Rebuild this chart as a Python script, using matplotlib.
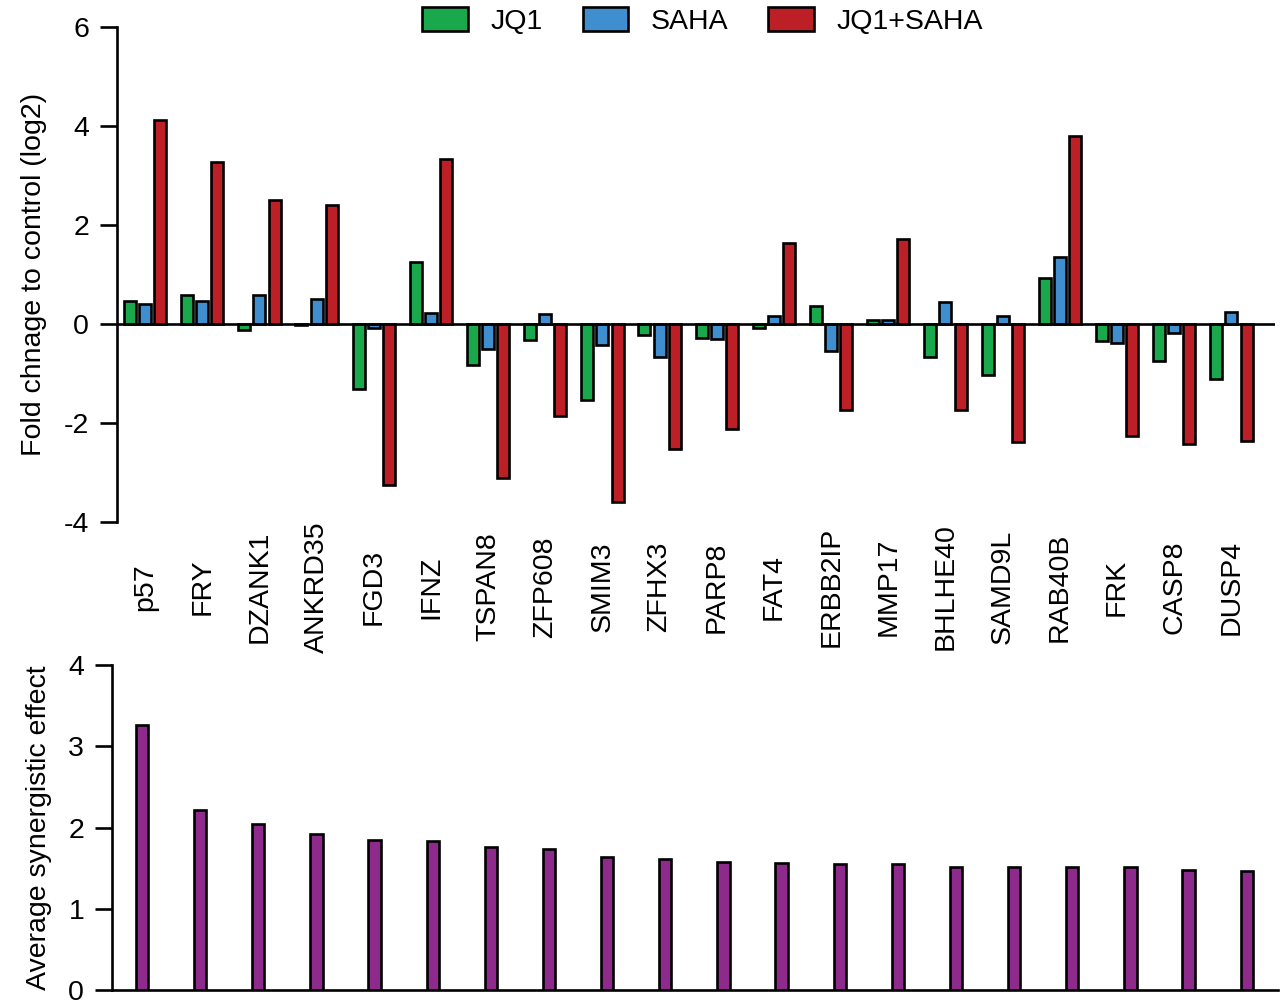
import numpy as np
import matplotlib
matplotlib.use("Agg")
import matplotlib.pyplot as plt
from matplotlib.patches import Patch

plt.rcParams['font.family'] = ['Liberation Sans', 'DejaVu Sans']
plt.rcParams['font.size'] = 20.5
plt.rcParams['axes.unicode_minus'] = False

genes = ['p57', 'FRY', 'DZANK1', 'ANKRD35', 'FGD3', 'IFNZ', 'TSPAN8', 'ZFP608',
         'SMIM3', 'ZFHX3', 'PARP8', 'FAT4', 'ERBB2IP', 'MMP17', 'BHLHE40',
         'SAMD9L', 'RAB40B', 'FRK', 'CASP8', 'DUSP4']

# log2 fold change vs control
jq1 = [0.46, 0.59, -0.12, -0.02, -1.31, 1.25, -0.83, -0.32, -1.54, -0.22,
       -0.27, -0.08, 0.37, 0.08, -0.66, -1.02, 0.93, -0.34, -0.75, -1.11]
saha = [0.40, 0.46, 0.59, 0.50, -0.07, 0.22, -0.51, 0.20, -0.43, -0.67,
        -0.29, 0.17, -0.54, 0.08, 0.45, 0.16, 1.35, -0.38, -0.18, 0.24]
combo = [4.12, 3.27, 2.50, 2.40, -3.25, 3.33, -3.10, -1.86, -3.60, -2.52,
         -2.12, 1.65, -1.74, 1.72, -1.74, -2.38, 3.81, -2.26, -2.42, -2.36]

# average synergistic effect per gene
synergy = [3.27, 2.22, 2.04, 1.92, 1.85, 1.84, 1.76, 1.74, 1.64, 1.61,
           1.57, 1.56, 1.55, 1.55, 1.52, 1.52, 1.51, 1.51, 1.48, 1.47]

green = '#19a84b'
blue = '#3f8fd0'
red = '#bc2026'
purple = '#8e2a8c'
lw = 1.9

fig = plt.figure(figsize=(12.8, 10.08), dpi=100)

# --- top panel: fold change ---
ax = fig.add_axes([0.0914, 0.482, 0.905, 0.491])
x = np.arange(len(genes))
w = 0.21
step = 0.265
kw = dict(edgecolor='black', linewidth=lw, zorder=3)
ax.bar(x - step, jq1, w, color=green, **kw)
ax.bar(x, saha, w, color=blue, **kw)
ax.bar(x + step, combo, w, color=red, **kw)
ax.axhline(0, color='black', lw=lw, zorder=4)

ax.set_xlim(-0.49, 19.77)
ax.set_ylim(-4, 6)
ax.set_yticks([-4, -2, 0, 2, 4, 6])
ax.set_xticks([])
for s in ['top', 'right', 'bottom']:
    ax.spines[s].set_visible(False)
ax.spines['left'].set_linewidth(lw)
ax.tick_params(axis='y', length=12, width=lw, pad=8)
ax.set_ylabel('Fold chnage to control (log2)', labelpad=12)

for i, g in enumerate(genes):
    ax.text(i, -5.31, g, rotation=90, ha='center', va='center', clip_on=False)

handles = [Patch(facecolor=c, edgecolor='black', linewidth=lw) for c in (green, blue, red)]
fig.legend(handles, ['JQ1', 'SAHA', 'JQ1+SAHA'], loc='center',
           bbox_to_anchor=(0.549, 0.979), ncol=3, frameon=False,
           handlelength=1.6, handleheight=0.9, handletextpad=0.8,
           columnspacing=1.4)

# --- bottom panel: synergy ---
ax2 = fig.add_axes([0.0875, 0.018, 0.911, 0.322])
ax2.bar(x, synergy, w, color=purple, **kw)
ax2.set_xlim(-0.516, 19.54)
ax2.set_ylim(0, 4)
ax2.set_yticks([0, 1, 2, 3, 4])
ax2.set_xticks([])
for s in ['top', 'right']:
    ax2.spines[s].set_visible(False)
ax2.spines['left'].set_linewidth(lw)
ax2.spines['bottom'].set_linewidth(lw)
ax2.tick_params(axis='y', length=12, width=lw, pad=8)
ax2.tick_params(axis='x', length=0)
ax2.set_ylabel('Average synergistic effect', labelpad=12)

fig.savefig('out.png', dpi=100)
